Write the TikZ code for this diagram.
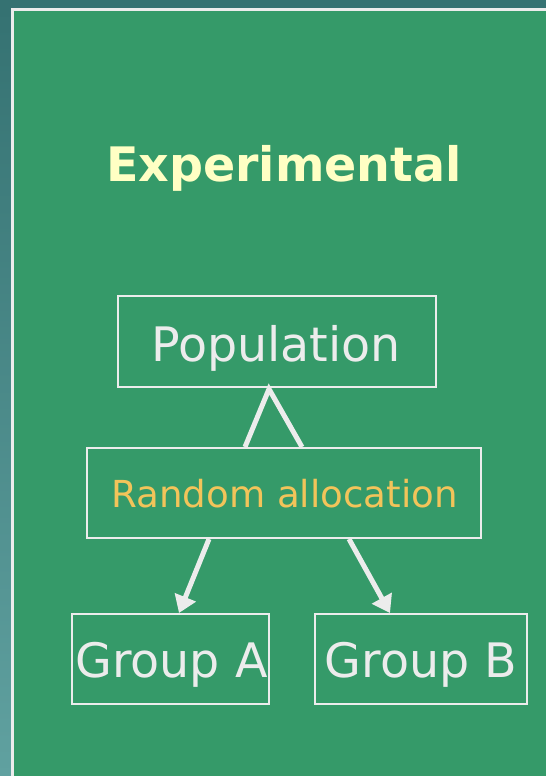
\documentclass[tikz,border=0pt]{standalone}
\usepackage{fontspec}
\setmainfont{DejaVu Sans}
\usetikzlibrary{arrows.meta}
\definecolor{slidegreen}{HTML}{359A69}
\definecolor{edgeteal}{HTML}{357272}
\definecolor{edgeteallight}{HTML}{60A1A0}
\definecolor{paleline}{HTML}{ECECEC}
\definecolor{titleyellow}{HTML}{FFFFC4}
\definecolor{allocgold}{HTML}{F2C45A}
\tikzset{
  stagebox/.style={draw=paleline, line width=2.5pt, inner sep=0pt, text=paleline},
  link/.style={draw=paleline, line width=5pt},
  flow/.style={link, -{Triangle[length=17pt,width=22pt]}},
}
\begin{document}
\begin{tikzpicture}[x=1pt,y=-1pt]
  \useasboundingbox (0,0) rectangle (546,776);
  % slide background and frame
  \fill[slidegreen] (0,0) rectangle (546,776);
  \fill[edgeteal] (0,0) rectangle (546,8);
  \shade[top color=edgeteal, bottom color=edgeteallight] (0,8) rectangle (11,776);
  \draw[paleline, line width=3pt] (12.5,776) -- (12.5,9.5) -- (546,9.5);
  % title
  \node[text=titleyellow, font=\bfseries\fontsize{47.5}{56}\selectfont] (title) at (284,168) {Experimental};
  % boxes
  \node[stagebox, minimum width=318pt, minimum height=91pt] (pop) at (277,341.5) {};
  \node[text=paleline, font=\fontsize{47.5}{56}\selectfont, anchor=base] (poplabel) at (276,361) {Population};
  \node[stagebox, minimum width=394pt, minimum height=90pt] (alloc) at (284,493) {};
  \node[text=allocgold, font=\fontsize{37.2}{44}\selectfont, anchor=base] (alloclabel) at (284.5,507) {Random allocation};
  \node[stagebox, minimum width=197pt, minimum height=90pt] (ga) at (170.5,659) {};
  \node[text=paleline, font=\fontsize{47.5}{56}\selectfont, anchor=base] (galabel) at (171.5,677) {Group A};
  \node[stagebox, minimum width=212pt, minimum height=90pt] (gb) at (421,659) {};
  \node[text=paleline, font=\fontsize{47.5}{56}\selectfont, anchor=base] (gblabel) at (421,677) {Group B};
  % connectors
  \coordinate (apex) at (269,389);
  \coordinate (splitL) at (245,447);
  \coordinate (splitR) at (302,447);
  \draw[link, line join=miter] (splitL) -- (apex) -- (splitR);
  \coordinate (fromL) at (209,539);
  \coordinate (toA) at (179,613);
  \coordinate (fromR) at (349,539);
  \coordinate (toB) at (390,613);
  \draw[flow] (fromL) -- (toA);
  \draw[flow] (fromR) -- (toB);
\end{tikzpicture}
\end{document}
